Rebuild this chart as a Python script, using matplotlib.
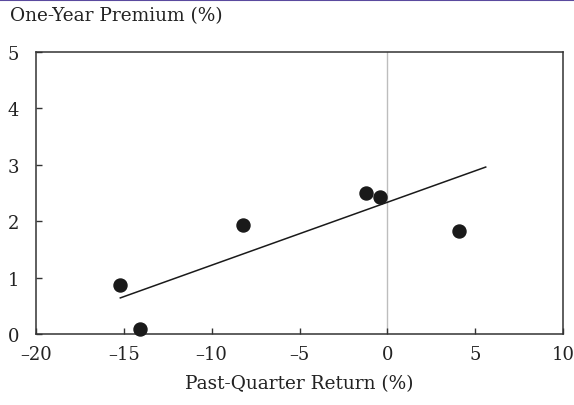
import matplotlib
matplotlib.use("Agg")
import matplotlib.pyplot as plt
from matplotlib.lines import Line2D

# Data
past_quarter_return = [-15.2, -14.1, -8.2, -1.2, -0.4, 4.1]
one_year_premium = [0.87, 0.08, 1.93, 2.50, 2.43, 1.82]
fit_x = [-15.2, 5.6]
fit_y = [0.64, 2.96]
x_ticks = [-20, -15, -10, -5, 0, 5, 10]
y_ticks = [0, 1, 2, 3, 4, 5]

plt.rcParams['font.family'] = ['DejaVu Serif']

fig = plt.figure(figsize=(5.74, 4.06), dpi=100)
ax = fig.add_axes([36/574, 1-335/406, (563-36)/574, (335-53)/406])

ax.axvline(0, color='#bdbdbd', lw=1.0, zorder=1)
ax.plot(fit_x, fit_y, color='#1a1a1a', lw=1.1, zorder=2)
ax.scatter(past_quarter_return, one_year_premium, s=88, color='#1a1a1a', zorder=3, clip_on=False)

ax.set_xlim(-20, 10)
ax.set_ylim(0, 5)
ax.set_xticks(x_ticks)
ax.set_xticklabels([f"{v}".replace('-', '\u2013') for v in x_ticks])
ax.set_yticks(y_ticks)
ax.tick_params(axis='both', direction='in', length=4, width=1, color='#333333', labelsize=13, labelcolor='#222222')
ax.tick_params(axis='x', pad=8)
ax.tick_params(axis='y', pad=12)
for s in ax.spines.values():
    s.set_color('#333333')
    s.set_linewidth(1.1)

ax.set_xlabel('Past-Quarter Return (%)', fontsize=13.3, color='#222222', labelpad=8)
fig.text(10/574, 1-16/406, 'One-Year Premium (%)', fontsize=13.3, color='#222222', va='center', ha='left')

fig.add_artist(Line2D([0, 1], [1-0.8/406, 1-0.8/406], transform=fig.transFigure, color='#5a4a9e', lw=1.5))

fig.savefig('out.png', dpi=100)
